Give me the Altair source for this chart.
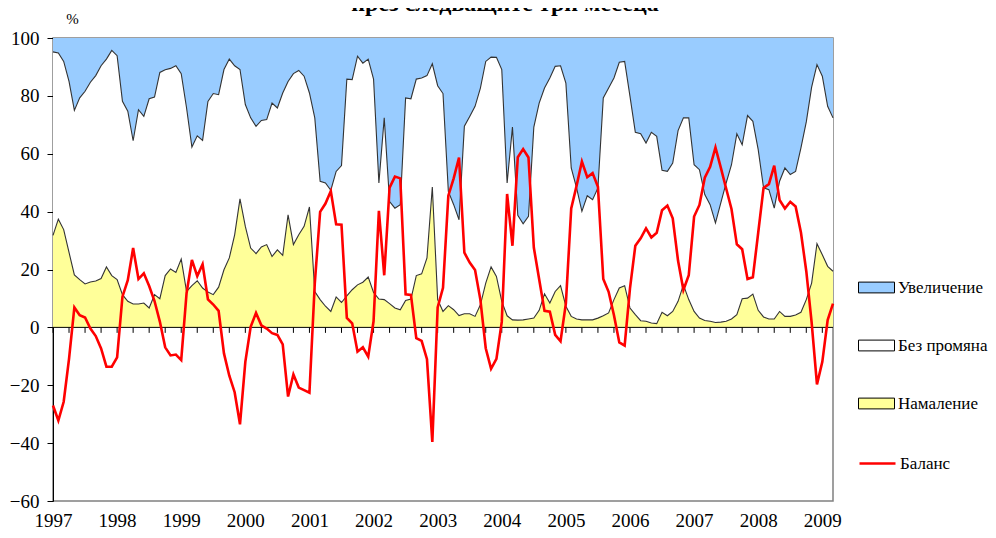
import altair as alt
import pandas as pd

# Monthly survey data, Jan 1997 - Mar 2009 (values in %)
increase = [4.8, 5.2, 8.1, 15.0, 25.0, 20.7, 18.4, 15.3, 13.0, 9.6, 7.3, 4.3,
            6.1, 21.9, 25.3, 35.5, 24.8, 27.1, 21.0, 20.4, 11.9, 11.0, 10.5, 9.6,
            12.3, 24.2, 37.7, 33.8, 35.4, 21.9, 19.2, 19.6, 10.9, 7.3, 9.6, 10.9,
            23.0, 27.6, 30.5, 28.5, 28.2, 22.5, 24.2, 19.0, 15.0, 12.3, 11.2, 13.2,
            19.0, 27.6, 49.5, 50.1, 52.6, 46.1, 44.1, 14.2, 14.4, 6.3, 8.7, 7.3,
            14.2, 50.1, 27.6, 56.5, 58.8, 57.6, 20.7, 21.0, 14.2, 13.8, 13.0, 8.9,
            16.5, 19.2, 53.0, 57.6, 62.8, 30.5, 27.1, 23.6, 17.3, 8.1, 6.6, 6.7,
            10.9, 50.1, 30.8, 61.3, 64.2, 61.6, 30.8, 22.5, 17.3, 13.8, 9.8, 9.6,
            15.6, 44.9, 51.8, 59.9, 54.5, 55.9, 51.8, 20.7, 17.3, 13.8, 8.4, 8.1,
            20.2, 32.6, 33.1, 36.3, 32.6, 34.0, 45.7, 46.1, 43.2, 32.0, 27.6, 27.6,
            43.8, 45.5, 54.1, 57.6, 63.9, 57.0, 50.1, 43.8, 33.1, 36.9, 26.8, 28.8,
            38.6, 51.8, 52.4, 58.8, 49.5, 44.9, 47.2, 46.1, 38.0, 29.0, 17.0, 9.2,
            13.2, 23.6, 27.6]

no_change = [63.4, 57.4, 58.1, 59.1, 56.9, 62.8, 66.6, 69.0, 71.0, 73.5, 71.8, 77.8,
             77.4, 66.8, 65.7, 56.4, 67.1, 64.5, 72.3, 68.3, 78.2, 71.1, 69.3, 71.4,
             64.1, 63.4, 47.9, 50.1, 51.0, 65.9, 69.5, 66.5, 69.2, 68.7, 58.4, 44.7,
             42.1, 45.0, 44.0, 43.7, 43.2, 53.0, 49.0, 56.1, 46.1, 59.1, 56.8, 51.9,
             39.4, 60.0, 40.9, 42.6, 41.9, 43.4, 47.3, 74.9, 72.6, 79.0, 75.7, 75.3,
             73.7, 40.1, 62.8, 35.3, 34.5, 36.3, 70.0, 69.2, 67.9, 67.7, 63.0, 42.6,
             73.9, 75.3, 39.5, 36.3, 33.1, 64.8, 68.2, 72.6, 74.9, 76.6, 72.5, 75.7,
             80.1, 45.9, 66.6, 36.2, 33.2, 35.5, 66.0, 71.6, 71.1, 77.8, 77.8, 76.0,
             77.1, 51.3, 45.3, 37.5, 42.9, 41.5, 45.0, 75.3, 77.7, 76.6, 78.0, 77.5,
             73.1, 63.0, 64.6, 61.6, 65.9, 64.7, 49.1, 49.9, 51.3, 59.0, 57.7, 62.8,
             50.7, 51.3, 43.5, 40.3, 34.4, 41.2, 47.8, 53.3, 62.5, 53.2, 63.1, 59.7,
             55.5, 44.6, 44.7, 38.3, 45.0, 51.3, 49.0, 49.6, 56.8, 61.4, 67.7, 61.9,
             61.7, 55.3, 53.0]

decrease = [31.8, 37.4, 33.8, 25.9, 18.1, 16.5, 15.0, 15.7, 16.0, 16.9, 20.9, 17.9,
            16.5, 11.3, 9.0, 8.1, 8.1, 8.4, 6.7, 11.3, 9.9, 17.9, 20.2, 19.0,
            23.6, 12.4, 14.4, 16.1, 13.6, 12.2, 11.3, 13.9, 19.9, 24.0, 32.0, 44.4,
            34.9, 27.4, 25.5, 27.8, 28.6, 24.5, 26.8, 24.9, 38.9, 28.6, 32.0, 34.9,
            41.6, 12.4, 9.6, 7.3, 5.5, 10.5, 8.6, 10.9, 13.0, 14.7, 15.6, 17.4,
            12.1, 9.8, 9.6, 8.2, 6.7, 6.1, 9.3, 9.8, 17.9, 18.5, 24.0, 48.5,
            9.6, 5.5, 7.5, 6.1, 4.1, 4.7, 4.7, 3.8, 7.8, 15.3, 20.9, 17.6,
            9.0, 4.0, 2.6, 2.5, 2.6, 2.9, 3.2, 5.9, 11.6, 8.4, 12.4, 14.4,
            7.3, 3.8, 2.9, 2.6, 2.6, 2.6, 3.2, 4.0, 5.0, 9.6, 13.6, 14.4,
            6.7, 4.4, 2.3, 2.1, 1.5, 1.3, 5.2, 4.0, 5.5, 9.0, 14.7, 9.6,
            5.5, 3.2, 2.4, 2.1, 1.7, 1.8, 2.1, 2.9, 4.4, 9.9, 10.1, 11.5,
            5.9, 3.6, 2.9, 2.9, 5.5, 3.8, 3.8, 4.3, 5.2, 9.6, 15.3, 28.9,
            25.1, 21.1, 19.4]

balance = [-27.0, -32.2, -25.7, -10.9, 6.9, 4.2, 3.4, -0.4, -3.0, -7.3, -13.6, -13.6,
           -10.4, 10.6, 16.3, 27.4, 16.7, 18.7, 14.3, 9.1, 2.0, -6.9, -9.7, -9.4,
           -11.3, 11.8, 23.3, 17.7, 21.8, 9.7, 7.9, 5.7, -9.0, -16.7, -22.4, -33.5,
           -11.9, 0.2, 5.0, 0.7, -0.4, -2.0, -2.6, -5.9, -23.9, -16.3, -20.8, -21.7,
           -22.6, 15.2, 39.9, 42.8, 47.1, 35.6, 35.5, 3.3, 1.4, -8.4, -6.9, -10.1,
           2.1, 40.3, 18.0, 48.3, 52.1, 51.5, 11.4, 11.2, -3.7, -4.7, -11.0, -39.6,
           6.9, 13.7, 45.5, 51.5, 58.7, 25.8, 22.4, 19.8, 9.5, -7.2, -14.3, -10.9,
           1.9, 46.1, 28.2, 58.8, 61.6, 58.7, 27.6, 16.6, 5.7, 5.4, -2.6, -4.8,
           8.3, 41.1, 48.9, 57.3, 51.9, 53.3, 48.6, 16.7, 12.3, 4.2, -5.2, -6.3,
           13.5, 28.2, 30.8, 34.2, 31.1, 32.7, 40.5, 42.1, 37.7, 23.0, 12.9, 18.0,
           38.3, 42.3, 51.7, 55.5, 62.2, 55.2, 48.0, 40.9, 28.7, 27.0, 16.7, 17.3,
           32.7, 48.2, 49.5, 55.9, 44.0, 41.1, 43.4, 41.8, 32.8, 19.4, 1.7, -19.7,
           -11.9, 2.5, 8.2]

first_year = 1997
year_ticks = [0, 12, 24, 36, 48, 60, 72, 84, 96, 108, 120, 132, 144]
y_ticks = [-60, -40, -20, 0, 20, 40, 60, 80, 100]
series_names = ["Увеличение", "Без промяна", "Намаление"]
series_colors = ["#99CCFF", "#FFFFFF", "#FFFF99"]
title_text = "през следващите три месеца"

n = len(increase)
months = list(range(n))

rows = []
for i in months:
    rows.append({"m": i, "series": "Намаление", "value": decrease[i], "ord": 0})
    rows.append({"m": i, "series": "Без промяна", "value": no_change[i], "ord": 1})
    rows.append({"m": i, "series": "Увеличение", "value": increase[i], "ord": 2})
area_df = pd.DataFrame(rows)

edge_df = pd.DataFrame({
    "m": months,
    "low": decrease,
    "high": [d + c for d, c in zip(decrease, no_change)],
})
bal_df = pd.DataFrame({"m": months, "value": balance, "s": "Баланс"})
quarter_df = pd.DataFrame({"m": list(range(0, n, 3))})
zero_df = pd.DataFrame({"z": [0]})

FONT = "Liberation Serif, Times New Roman, DejaVu Serif, serif"
xs = alt.Scale(domain=[0, n - 1], nice=False, zero=False)
ys = alt.Scale(domain=[-60, 100], nice=False)

x_axis = alt.Axis(values=year_ticks, labelExpr=f"{first_year} + datum.value / 12",
                  title=None, ticks=False, domain=False, grid=False,
                  labelFont=FONT, labelFontSize=19, labelColor="black",
                  labelBaseline="alphabetic", labelPadding=25, labelFlush=False)
y_axis = alt.Axis(values=y_ticks, title="%", titleAngle=0, titleX=19, titleY=-15,
                  titleAlign="center", titleBaseline="alphabetic",
                  titleFont=FONT, titleFontSize=15, titleFontWeight="normal",
                  titleColor="black", grid=False, domainColor="black",
                  tickColor="black", tickSize=6, labelFont=FONT, labelFontSize=19,
                  labelColor="black", labelPadding=8)

rect_path = "M-1,-0.3H1V0.3H-1Z"

areas = alt.Chart(area_df).mark_area(opacity=1, interpolate="linear").encode(
    x=alt.X("m:Q", scale=xs, axis=x_axis),
    y=alt.Y("value:Q", stack="zero", scale=ys, axis=y_axis),
    fill=alt.Fill("series:N",
                  scale=alt.Scale(domain=series_names, range=series_colors),
                  legend=alt.Legend(title=None, orient="none", legendX=805, legendY=231,
                                    symbolType=rect_path, symbolSize=1296,
                                    symbolStrokeColor="black", symbolStrokeWidth=1,
                                    symbolOpacity=1, labelLimit=200,
                                    labelFont=FONT, labelFontSize=17, labelColor="black",
                                    labelOffset=3, rowPadding=31, padding=0)),
    order=alt.Order("ord:Q", sort="ascending"),
)

edges = alt.Chart(edge_df).transform_fold(["low", "high"], as_=["k", "v"]).mark_line(
    color="#333333", strokeWidth=1.1
).encode(
    x=alt.X("m:Q", scale=xs),
    y=alt.Y("v:Q", scale=ys),
    detail="k:N",
)

zero_rule = alt.Chart(zero_df).mark_rule(color="black", strokeWidth=1).encode(
    y=alt.Y("z:Q", scale=ys)
)

qticks = alt.Chart(quarter_df).mark_rule(color="black", strokeWidth=1).encode(
    x=alt.X("m:Q", scale=xs),
    y=alt.datum(0),
    y2=alt.datum(-1.9),
)

bal_line = alt.Chart(bal_df).mark_line(strokeWidth=2.6, interpolate="linear").encode(
    x=alt.X("m:Q", scale=xs),
    y=alt.Y("value:Q", scale=ys),
    stroke=alt.Stroke("s:N", scale=alt.Scale(domain=["Баланс"], range=["#FF0000"]),
                      legend=alt.Legend(title=None, orient="none", legendX=805, legendY=406,
                                        symbolType="M-1,0H1", symbolSize=1296,
                                        symbolStrokeWidth=2.6, labelLimit=200,
                                        labelFont=FONT, labelFontSize=17,
                                        labelColor="black", labelOffset=3, padding=0)),
)

chart = alt.layer(areas, edges, zero_rule, qticks, bal_line).properties(
    width=780, height=463,
    autosize=alt.AutoSizeParams(type="none"),
    padding={"left": 45, "top": 30, "right": 155, "bottom": 29},
    title=alt.Title(title_text, font=FONT, fontSize=24, fontWeight="bold",
                    color="black", anchor="middle", dx=62, dy=9),
).configure_view(stroke="#808080", strokeWidth=1.5)

chart.save("out.html", embed_options={"renderer": "svg", "actions": False})
